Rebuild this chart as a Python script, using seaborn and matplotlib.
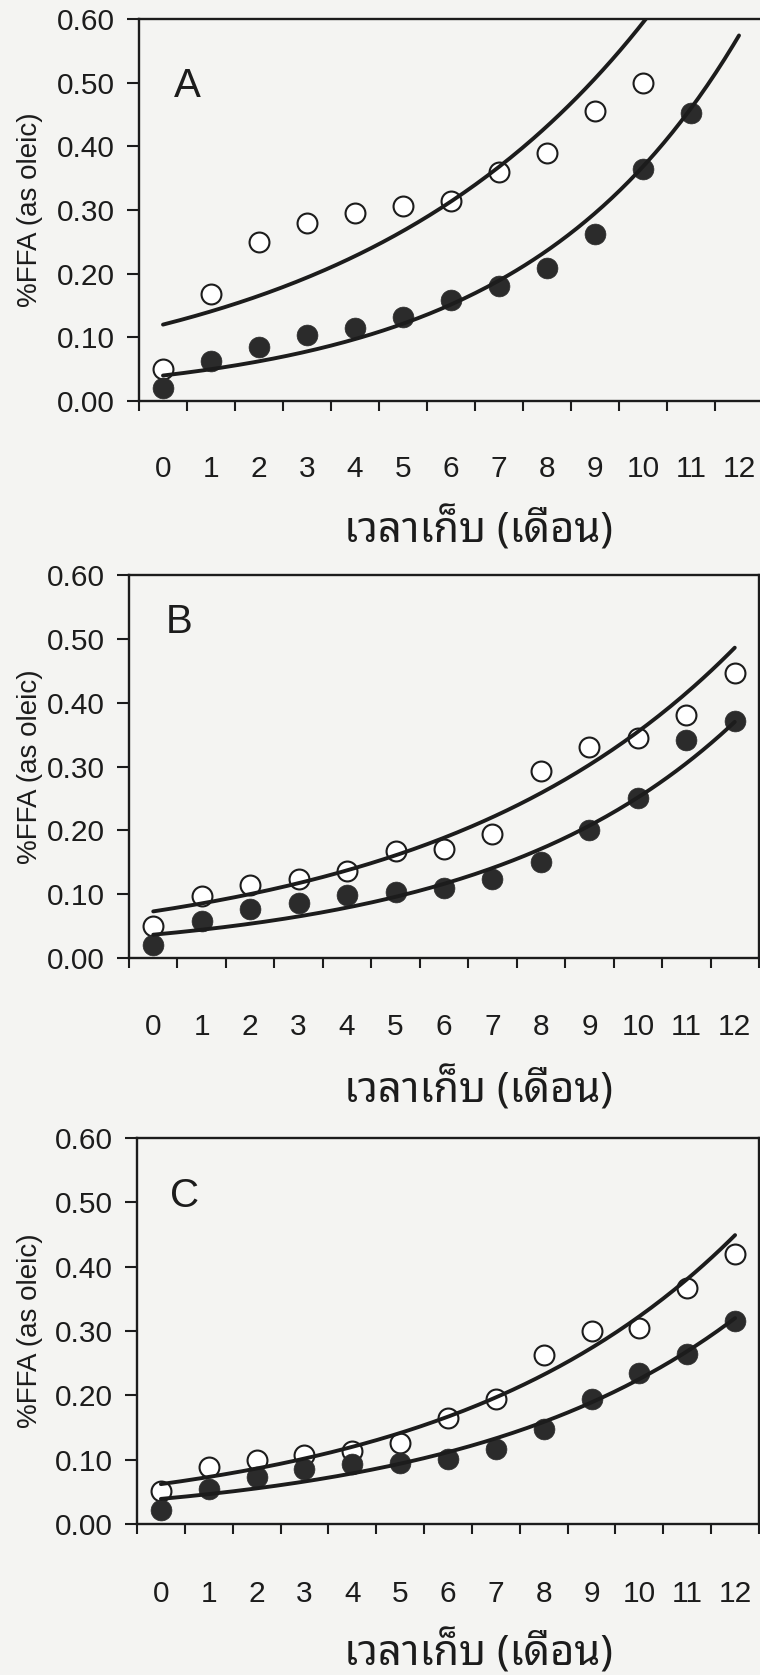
import numpy as np
import pandas as pd
import matplotlib
matplotlib.use("Agg")
import matplotlib.pyplot as plt
import seaborn as sns
from matplotlib import font_manager
from matplotlib.ticker import FixedLocator, FormatStrFormatter

# ---------------- data ----------------
months = list(range(13))
x_tick_labels = [str(m) for m in months]
y_ticks = [0.00, 0.10, 0.20, 0.30, 0.40, 0.50, 0.60]
panel_letters = ["A", "B", "C"]
x_label = "เวลาเก็บ (เดือน)"
y_label = "%FFA (as oleic)"

# open circles
open_A = [0.05, 0.168, 0.25, 0.28, 0.296, 0.306, 0.314, 0.36, 0.39, 0.456, 0.50]
open_B = [0.05, 0.097, 0.114, 0.123, 0.137, 0.168, 0.171, 0.195, 0.293, 0.33, 0.344, 0.381, 0.447]
open_C = [0.052, 0.088, 0.10, 0.108, 0.113, 0.126, 0.165, 0.194, 0.262, 0.30, 0.305, 0.367, 0.42]
# filled circles
filled_A = [0.02, 0.063, 0.085, 0.104, 0.114, 0.132, 0.159, 0.18, 0.209, 0.263, 0.364, 0.453]
filled_B = [0.02, 0.058, 0.077, 0.086, 0.098, 0.104, 0.11, 0.124, 0.15, 0.20, 0.25, 0.342, 0.371]
filled_C = [0.022, 0.055, 0.073, 0.085, 0.093, 0.095, 0.101, 0.116, 0.147, 0.194, 0.234, 0.264, 0.315]

# exponential trend curves y = a * exp(b * month), parameters
fit_open_a = [0.120, 0.073, 0.062]
fit_open_b = [0.160, 0.158, 0.165]
fit_filled_a = [0.040, 0.0365, 0.039]
fit_filled_b = [0.222, 0.193, 0.1754]

open_series = [open_A, open_B, open_C]
filled_series = [filled_A, filled_B, filled_C]

# ---------------- fonts ----------------
sns.set_style("ticks")
names = {f.name for f in font_manager.fontManager.ttflist}
latin = next((n for n in ["Liberation Sans Narrow", "Arial Narrow", "Liberation Sans", "Arial"]
              if n in names), "DejaVu Sans")
narrow = "Narrow" in latin

thai_fonts = [n for n in ["Noto Sans Thai Looped", "Noto Sans Thai", "Noto Serif Thai", "Loma",
                          "Garuda", "Norasi", "Kinnari", "Sawasdee", "Umpush", "Waree",
                          "Tlwg Typo", "FreeSans", "FreeSerif"] if n in names]
if not thai_fonts:
    try:
        from matplotlib.ft2font import FT2Font
        seen = set()
        for f in font_manager.fontManager.ttflist:
            if f.fname in seen:
                continue
            seen.add(f.fname)
            try:
                if ord("เ") in FT2Font(f.fname).get_charmap():
                    thai_fonts.append(f.name)
                    break
            except Exception:
                pass
    except Exception:
        pass

plt.rcParams["font.family"] = [latin] + thai_fonts + ["DejaVu Sans"]
thai_family = thai_fonts + [latin, "DejaVu Sans"]

tick_fs = 23 if narrow else 21.5
ylab_fs = 22 if narrow else 20
letter_fs = 31 if narrow else 29
xlab_fs = 30

bg = "#f4f4f2"
ink = "#1c1c1c"
dot = "#2b2b2b"

W, H = 760, 1675
fig = plt.figure(figsize=(W / 100, H / 100), dpi=100, facecolor=bg)

# axes boxes in pixels: left, right, top, bottom
boxes = [(139, 763, 19, 401), (129, 759, 575, 958), (137, 759, 1138, 1524)]
tick_label_gap = [68, 69, 70]
xlabel_y = [530, 1090, 1653]
letter_pos = [(0.50, 0.495), (0.53, 0.527), (0.50, 0.51)]

for i, (l, r, t, b) in enumerate(boxes):
    ax = fig.add_axes([l / W, 1 - b / H, (r - l) / W, (b - t) / H], facecolor=bg)

    o = open_series[i]
    f = filled_series[i]
    df_open = pd.DataFrame({"month": months[:len(o)], "ffa": o})
    df_fill = pd.DataFrame({"month": months[:len(f)], "ffa": f})

    xs = np.linspace(0, 12, 200)
    df_cur_open = pd.DataFrame({"month": xs, "ffa": fit_open_a[i] * np.exp(fit_open_b[i] * xs)})
    df_cur_fill = pd.DataFrame({"month": xs, "ffa": fit_filled_a[i] * np.exp(fit_filled_b[i] * xs)})

    sns.scatterplot(data=df_open, x="month", y="ffa", ax=ax, s=205, color="white",
                    edgecolor=ink, linewidth=1.5, zorder=3, legend=False, clip_on=False)
    sns.scatterplot(data=df_fill, x="month", y="ffa", ax=ax, s=225, color=dot,
                    edgecolor=dot, linewidth=0.5, zorder=4, legend=False, clip_on=False)
    sns.lineplot(data=df_cur_open, x="month", y="ffa", ax=ax, color=ink, linewidth=2.8,
                 estimator=None, sort=False, zorder=5)
    sns.lineplot(data=df_cur_fill, x="month", y="ffa", ax=ax, color=ink, linewidth=2.8,
                 estimator=None, sort=False, zorder=5)

    ax.set_xlim(-0.5, 12.5)
    ax.set_ylim(0, 0.6)

    ax.xaxis.set_major_locator(FixedLocator(months))
    ax.set_xticklabels(x_tick_labels)
    ax.xaxis.set_minor_locator(FixedLocator(np.arange(-0.5, 12.6, 1.0)))
    pad_pt = (tick_label_gap[i] - 14) * 0.72
    ax.tick_params(axis="x", which="major", length=0, pad=pad_pt, labelsize=tick_fs, colors=ink)
    ax.tick_params(axis="x", which="minor", length=7.5, width=1.5, direction="out", color=ink)

    ax.yaxis.set_major_locator(FixedLocator(y_ticks))
    ax.yaxis.set_major_formatter(FormatStrFormatter("%.2f"))
    ax.tick_params(axis="y", which="major", length=8.6, width=1.5, direction="out",
                   pad=9, labelsize=tick_fs, colors=ink)

    for sp in ax.spines.values():
        sp.set_visible(True)
        sp.set_linewidth(1.7)
        sp.set_color(ink)

    ax.set_ylabel(y_label, fontsize=ylab_fs, color=ink)
    ax.yaxis.set_label_coords((30 - l) / (r - l), 0.5)
    ax.yaxis.label.set_va("center")

    ax.set_xlabel(x_label, fontsize=xlab_fs, color=ink, family=thai_family, fontweight="bold")
    ax.xaxis.set_label_coords((478 - l) / (r - l), (b - xlabel_y[i]) / (b - t))
    ax.xaxis.label.set_va("center")

    ax.text(letter_pos[i][0], letter_pos[i][1], panel_letters[i], fontsize=letter_fs,
            color=ink, ha="center", va="center", transform=ax.transData)

fig.savefig("out.png", dpi=100, facecolor=bg)
